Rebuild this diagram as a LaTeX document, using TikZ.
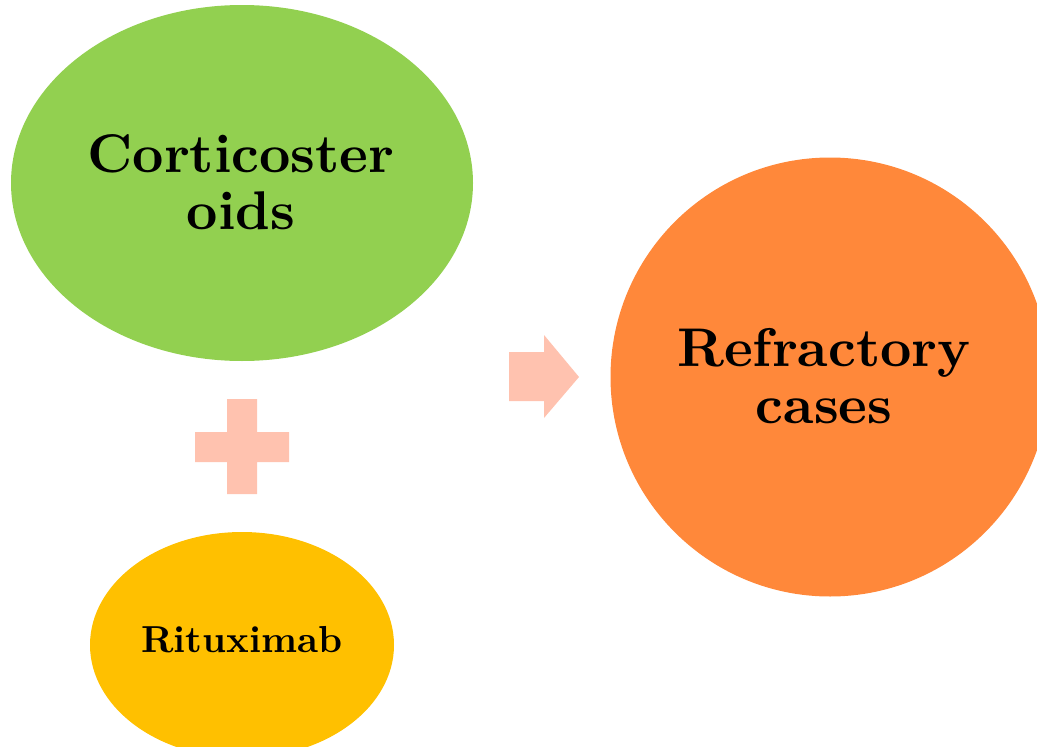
\documentclass[tikz,border=0pt]{standalone}
\usepackage{fontspec}
\newfontface\lmbxten{lmroman10-bold.otf}
\usetikzlibrary{shapes.geometric}
\definecolor{cgreen}{HTML}{92D050}
\definecolor{corange}{HTML}{FF883A}
\definecolor{cyellow}{HTML}{FFC000}
\definecolor{cpink}{HTML}{FFC2AF}
\tikzset{
  blob/.style={ellipse, inner sep=0pt, align=center},
  bigtext/.style={font=\lmbxten\fontsize{54.5}{56.5}\selectfont},
  smalltext/.style={font=\lmbxten\fontsize{37.6}{40}\selectfont},
  symbolfill/.style={fill=cpink, draw=none}
}
\begin{document}
\begin{tikzpicture}[x=1pt,y=-1pt]
  \useasboundingbox (0,0) rectangle (1037,747);
  \begin{scope}
    \clip (0,0) rectangle (1037,747);
    \node[blob, fill=cgreen, minimum width=462pt, minimum height=356pt] (cort) at (242,183) {};
    \node[blob, fill=corange, minimum width=439pt, minimum height=439pt] (refr) at (830,377) {};
    \node[blob, fill=cyellow, minimum width=304pt, minimum height=226pt] (ritu) at (242,645) {};
  \end{scope}
  \node[bigtext, align=center] (cortt) at (241,182) {Corticoster\\oids};
  \node[bigtext, align=center] (refrt) at (824,376) {Refractory\\cases};
  \node[smalltext] (ritut) at (242,640) {Rituximab};
  % plus sign
  \fill[symbolfill] (227,399) -- (257,399) -- (257,432) -- (289,432) -- (289,462)
    -- (257,462) -- (257,494) -- (227,494) -- (227,462) -- (195,462) -- (195,432)
    -- (227,432) -- cycle;
  % arrow
  \fill[symbolfill] (509,352) -- (544,352) -- (544,335) -- (579,377) -- (544,418)
    -- (544,401) -- (509,401) -- cycle;
\end{tikzpicture}
\end{document}
